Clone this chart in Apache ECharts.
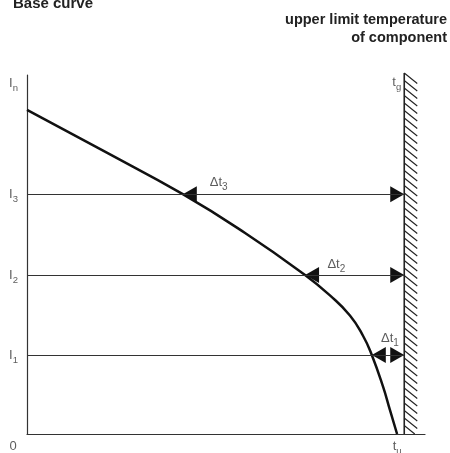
<!DOCTYPE html>
<html>
<head>
<meta charset="utf-8">
<script src="https://cdn.jsdelivr.net/npm/echarts@6/dist/echarts.min.js"></script>
<style>
  html, body { margin: 0; padding: 0; background: #fff; }
  #main { width: 450px; height: 453px; }
</style>
</head>
<body>
<div id="main"></div>
<script>
// base curve (x: temperature, y: current)
const curveX = [0, 19.3, 41.3, 57.8, 73.7, 80.3, 85.6, 89.1, 91.4, 94.4, 96.2, 98.1]
const curveY = [90.3, 79.4, 66.8, 56.0, 44.3, 38.6, 33.0, 27.3, 22.0, 13.1, 6.7, 0]

// current levels I1..I3 and where they meet the curve
const levelNames = ['1', '2', '3']
const levelY = [22.0, 44.3, 66.8]
const crossX = [91.4, 73.7, 41.3]

const wallX = 100   // t_g
const tuX = 98.1    // t_u
const yTop = 100    // I_n

// where the delta t labels sit (x centre, px above the line)
const deltaX = [96.2, 82.0, 50.8]
const deltaGap = [10, 4, 5]

const headLines = ['upper limit temperature', 'of component']

const myChart = echarts.init(document.getElementById('main'))

const font = 'Liberation Sans, Arial, sans-serif'
const ink = '#222'

// arrows: [tip x, y, direction] (-1 = pointing left)
const arrows = []
levelY.forEach((y, i) => {
  arrows.push([crossX[i], y, -1])
  arrows.push([wallX, y, 1])
})

const labels = [
  { value: [0, yTop], sub: 'n', pos: 'left', offset: [0, 8] },
  ...levelY.map((y, i) => ({ value: [0, y], sub: levelNames[i], pos: 'left' })),
  { value: [0, 0], txt: '0', pos: 'bottom', offset: [-14, 0] },
  { value: [tuX, 0], txt: 't', sub: 'u', pos: 'bottom' },
  { value: [wallX, yTop], txt: 't', sub: 'g', pos: 'left', offset: [0, 7], dist: 3 }
]

const option = {
  animation: false,
  title: {
    text: 'Base curve',
    left: 8,
    top: -9,
    textStyle: { fontFamily: font, fontSize: 15, fontWeight: 'bold', color: ink }
  },
  graphic: headLines.map((t, i) => ({
    type: 'text',
    right: 3,
    top: 12 + i * 18,
    style: { text: t, font: 'bold 14.5px ' + font, fill: ink }
  })),
  grid: { left: 27, right: 25, top: 75, bottom: 19 },
  xAxis: {
    type: 'value',
    min: 0,
    max: 105.5,
    axisLine: { show: true, lineStyle: { color: '#333', width: 1.2 } },
    axisTick: { show: false },
    axisLabel: { show: false },
    splitLine: { show: false }
  },
  yAxis: {
    type: 'value',
    min: 0,
    max: yTop,
    axisLine: { show: true, lineStyle: { color: '#333', width: 1.2 } },
    axisTick: { show: false },
    axisLabel: { show: false },
    splitLine: { show: false }
  },
  series: [
    {
      // horizontal level lines
      type: 'line',
      data: [],
      markLine: {
        silent: true,
        symbol: 'none',
        label: { show: false },
        lineStyle: { color: '#333', width: 1, type: 'solid' },
        data: levelY.map(y => [{ coord: [0, y] }, { coord: [wallX, y] }])
      }
    },
    {
      type: 'line',
      data: curveX.map((x, i) => [x, curveY[i]]),
      smooth: 0.5,
      showSymbol: false,
      lineStyle: { color: '#111', width: 2.5 },
      z: 3
    },
    {
      // wall at t_g with hatching
      type: 'custom',
      data: [[wallX]],
      renderItem: function (params, api) {
        const top = api.coord([api.value(0), yTop])
        const bot = api.coord([api.value(0), 0])
        const kids = [{
          type: 'line',
          shape: { x1: top[0], y1: top[1] - 2, x2: bot[0], y2: bot[1] },
          style: { stroke: '#222', lineWidth: 1.6 }
        }]
        for (let y = top[1] - 2; y < bot[1] - 1; y += 7.5) {
          const y2 = Math.min(y + 10.5, bot[1])
          const x2 = top[0] + (y2 - y) * 13 / 10.5
          kids.push({
            type: 'line',
            shape: { x1: top[0], y1: y, x2: x2, y2: y2 },
            style: { stroke: '#222', lineWidth: 1.1 }
          })
        }
        return { type: 'group', children: kids }
      },
      z: 2
    },
    {
      // arrow heads
      type: 'custom',
      data: arrows,
      renderItem: function (params, api) {
        const p = api.coord([api.value(0), api.value(1)])
        const d = api.value(2)
        const L = 14
        const W = 8
        return {
          type: 'polygon',
          shape: { points: [[p[0], p[1]], [p[0] - d * L, p[1] - W], [p[0] - d * L, p[1] + W]] },
          style: { fill: '#111' }
        }
      },
      z: 4
    },
    {
      // axis labels
      type: 'scatter',
      symbolSize: 0,
      data: labels.map(l => ({
        value: l.value,
        label: {
          show: true,
          position: l.pos,
          offset: l.offset || [0, 0],
          distance: l.dist !== undefined ? l.dist : (l.pos === 'left' ? 9 : 5),
          formatter: '{a|' + (l.txt || 'I') + '}' + (l.sub ? '{s|' + l.sub + '}' : '')
        }
      })),
      label: {
        rich: {
          a: { fontFamily: font, fontSize: 13, color: '#333', verticalAlign: 'bottom', lineHeight: 14 },
          s: { fontFamily: font, fontSize: 9.5, color: '#333', verticalAlign: 'bottom', lineHeight: 11, padding: [0, 0, -3, 0] }
        }
      },
      silent: true
    },
    {
      // delta t labels
      type: 'scatter',
      symbolSize: 0,
      data: levelY.map((y, i) => ({
        value: [deltaX[i], y],
        label: {
          show: true,
          position: 'top',
          distance: deltaGap[i],
          formatter: '{a|\u0394t}{s|' + levelNames[i] + '}'
        }
      })),
      label: {
        rich: {
          a: { fontFamily: font, fontSize: 13, color: '#333', verticalAlign: 'bottom', lineHeight: 15 },
          s: { fontFamily: font, fontSize: 10, color: '#333', verticalAlign: 'bottom', lineHeight: 12, padding: [0, 0, -3, 0] }
        }
      },
      silent: true
    }
  ]
}

option && myChart.setOption(option)
</script>
</body>
</html>
